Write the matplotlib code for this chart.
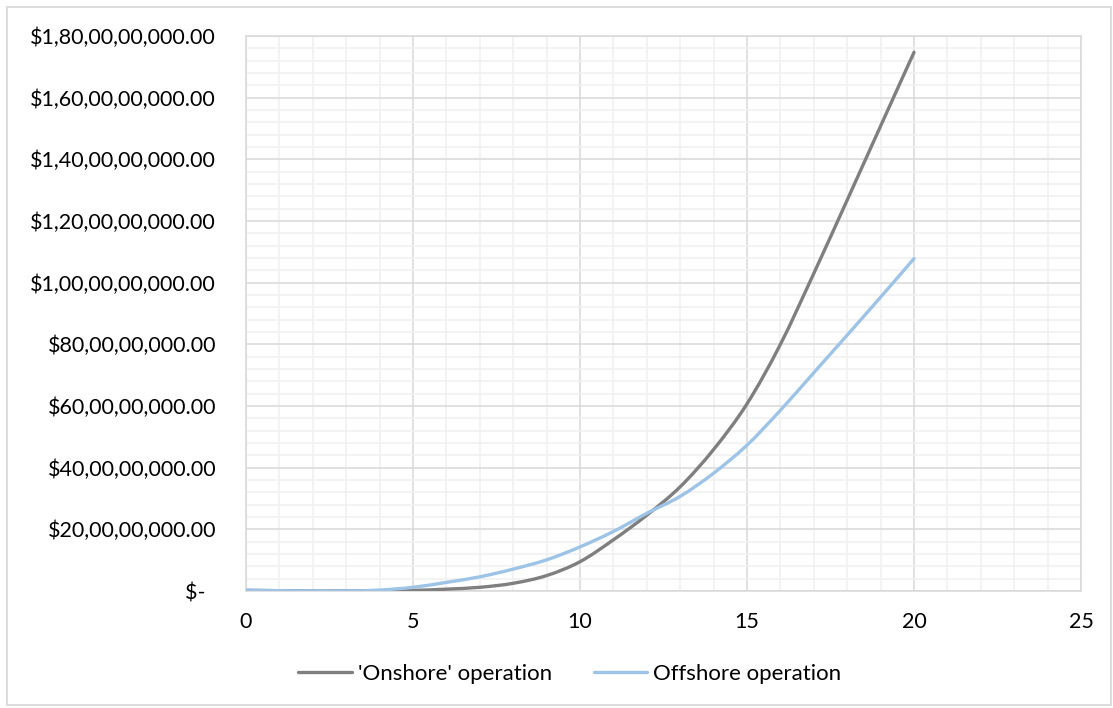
import matplotlib
matplotlib.use('Agg')
import matplotlib.pyplot as plt
from matplotlib.ticker import MultipleLocator, FuncFormatter
from matplotlib.patches import Rectangle, PathPatch
from matplotlib.path import Path
from matplotlib.lines import Line2D

# years
years = list(range(0, 21))

# cumulative cost, $
onshore = [0.002e9, 0.001e9, 0.0, 0.0, 0.001e9, 0.002e9, 0.006e9, 0.012e9,
           0.025e9, 0.05e9, 0.095e9, 0.166e9, 0.246e9, 0.338e9, 0.459e9,
           0.607e9, 0.80e9, 1.03e9, 1.268e9, 1.508e9, 1.747e9]
offshore = [0.003e9, 0.001e9, 0.0, 0.0, 0.003e9, 0.012e9, 0.028e9, 0.046e9,
            0.071e9, 0.101e9, 0.143e9, 0.193e9, 0.252e9, 0.307e9, 0.382e9,
            0.473e9, 0.586e9, 0.708e9, 0.83e9, 0.953e9, 1.078e9]

series_names = ["'Onshore' operation", "Offshore operation"]
colors = ['#7f7f7f', '#9dc3e6']


def indian_money(v, pos=None):
    # excel style accounting label with indian digit grouping
    n = int(round(v))
    if n == 0:
        return "$-  "
    s = str(n)
    head, tail = s[:-3], s[-3:]
    groups = []
    while len(head) > 2:
        groups.insert(0, head[-2:])
        head = head[:-2]
    if head:
        groups.insert(0, head)
    groups.append(tail)
    return "$" + ",".join(groups) + ".00"


def smooth_path(xs, ys):
    # bezier through the data points, like excel's "smoothed line"
    pts = list(zip(xs, ys))
    verts = [pts[0]]
    codes = [Path.MOVETO]
    n = len(pts)
    for i in range(n - 1):
        p0 = pts[max(i - 1, 0)]
        p1 = pts[i]
        p2 = pts[i + 1]
        p3 = pts[min(i + 2, n - 1)]
        c1 = (p1[0] + (p2[0] - p0[0]) / 6, p1[1] + (p2[1] - p0[1]) / 6)
        c2 = (p2[0] - (p3[0] - p1[0]) / 6, p2[1] - (p3[1] - p1[1]) / 6)
        verts += [c1, c2, p2]
        codes += [Path.CURVE4] * 3
    return Path(verts, codes)


plt.rcParams['font.family'] = ['Lato', 'DejaVu Sans']

fig = plt.figure(figsize=(11.13, 7.08), dpi=100)
ax = fig.add_axes([246 / 1113, 117 / 708, 835 / 1113, 555 / 708])

# chart area border
fig.patches.append(Rectangle((7 / 1113, 3 / 708), 1104 / 1113, 698 / 708,
                             transform=fig.transFigure, fill=False,
                             edgecolor='#d9d9d9', lw=1.3))

for ys, c in zip([onshore, offshore], colors):
    ax.add_patch(PathPatch(smooth_path(years, ys), fill=False, edgecolor=c,
                           lw=2.4, capstyle='round', zorder=3))

ax.set_xlim(0, 25)
ax.set_ylim(0, 1.8e9)
ax.xaxis.set_major_locator(MultipleLocator(5))
ax.xaxis.set_minor_locator(MultipleLocator(1))
ax.yaxis.set_major_locator(MultipleLocator(2e8))
ax.yaxis.set_minor_locator(MultipleLocator(4e7))
ax.yaxis.set_major_formatter(FuncFormatter(indian_money))

ax.grid(which='major', color='#d9d9d9', lw=1.1)
ax.grid(which='minor', color='#f0f0f0', lw=1.1)
ax.set_axisbelow(True)
for sp in ax.spines.values():
    sp.set_color('#d9d9d9')
    sp.set_linewidth(1.1)

ax.tick_params(which='both', length=0, labelsize=15.5, colors='black')
ax.tick_params(axis='y', pad=21.5)
ax.tick_params(axis='x', pad=15)

handles = [Line2D([], [], color=c, lw=2.4, solid_capstyle='round') for c in colors]
fig.legend(handles, series_names, loc='center', bbox_to_anchor=(0.512, 0.048),
           ncol=2, frameon=False, fontsize=16, handlelength=2.4,
           handletextpad=0.27, columnspacing=1.9)

fig.savefig('out.png', dpi=100)
